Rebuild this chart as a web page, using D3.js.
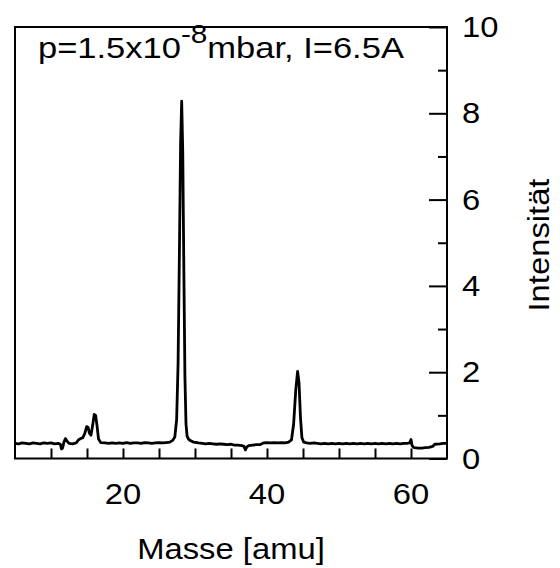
<!DOCTYPE html>
<html>
<head>
<meta charset="utf-8">
<script src="https://cdn.jsdelivr.net/npm/d3@7"></script>
<style>
  body { margin: 0; background: #fff; }
  text { font-family: "Liberation Sans", Arial, sans-serif; fill: #000; }
</style>
</head>
<body>
<svg id="chart"></svg>
<script>
'use strict';

let WIDTH = 560;
let HEIGHT = 568;
let FONT = 29;
let STRETCH = 1.13; // glyphs in the original are a bit wide

// mass spectrum
let mass = [
  5.0, 5.5, 6.0, 6.5, 7.0, 7.5, 8.0, 8.5, 9.0, 9.5, 10.0, 10.5, 11.0, 11.3, 11.45, 11.6, 11.8, 12.0, 12.2, 12.5,
  13.0, 13.5, 13.8, 14.1, 14.4, 14.7, 14.95, 15.15, 15.35, 15.55, 15.8, 16.0, 16.2, 16.4, 16.6, 16.9,
  17.5, 18.0, 18.5, 19.0, 19.5, 20.0, 20.5, 21.0, 21.5, 22.0, 22.5, 23.0, 23.5, 24.0, 24.5, 25.0, 25.5, 26.0, 26.5,
  26.9, 27.2, 27.45, 27.65, 27.85, 28.0, 28.15, 28.3, 28.45, 28.6, 28.75, 28.9, 29.1, 29.4, 29.8,
  30.5, 31.0, 31.5, 32.0, 32.5, 33.0, 33.5, 34.0, 34.5, 35.0, 35.5, 36.0, 36.5, 36.8, 37.0, 37.2, 37.5,
  38.0, 38.5, 39.0, 39.5, 40.0, 40.5, 41.0, 41.5, 42.0, 42.5, 43.0, 43.4, 43.7, 44.0, 44.25, 44.45, 44.65, 44.85,
  45.1, 45.5, 46.0, 46.5, 47.0, 47.5, 48.0, 48.5, 49.0, 49.5, 50.0, 50.5, 51.0, 51.5, 52.0, 52.5, 53.0, 53.5,
  54.0, 54.5, 55.0, 55.5, 56.0, 56.5, 57.0, 57.5, 58.0, 58.5, 59.0, 59.5, 59.8, 60.0, 60.15, 60.4,
  61.0, 61.5, 62.0, 62.5, 63.0, 63.3, 64.0, 64.5, 65.0
];
let intensity = [
  0.35, 0.34, 0.36, 0.35, 0.34, 0.36, 0.35, 0.34, 0.36, 0.35, 0.36, 0.34, 0.35, 0.33, 0.22, 0.24, 0.38, 0.46, 0.41, 0.35,
  0.34, 0.36, 0.43, 0.46, 0.48, 0.58, 0.74, 0.72, 0.58, 0.54, 0.78, 1.02, 1.00, 0.75, 0.45, 0.37,
  0.36, 0.35, 0.36, 0.35, 0.36, 0.35, 0.37, 0.35, 0.36, 0.36, 0.35, 0.37, 0.36, 0.35, 0.36, 0.37, 0.36, 0.37, 0.38,
  0.42, 0.50, 0.90, 2.20, 5.00, 7.30, 8.28, 7.10, 4.40, 1.90, 0.80, 0.52, 0.45, 0.41, 0.38,
  0.36, 0.35, 0.34, 0.35, 0.34, 0.33, 0.34, 0.33, 0.32, 0.33, 0.31, 0.31, 0.30, 0.28, 0.20, 0.27, 0.30,
  0.31, 0.32, 0.32, 0.36, 0.37, 0.36, 0.37, 0.36, 0.37, 0.36, 0.38, 0.43, 0.80, 1.60, 2.02, 1.75, 0.95, 0.48,
  0.38, 0.36, 0.35, 0.36, 0.35, 0.34, 0.35, 0.34, 0.35, 0.34, 0.35, 0.34, 0.35, 0.34, 0.35, 0.34, 0.35, 0.34,
  0.35, 0.34, 0.35, 0.34, 0.35, 0.34, 0.35, 0.34, 0.35, 0.34, 0.35, 0.35, 0.36, 0.44, 0.30, 0.25,
  0.24, 0.24, 0.25, 0.26, 0.28, 0.33, 0.34, 0.35, 0.35
];

let xTicks = [10, 15, 20, 25, 30, 35, 40, 45, 50, 55, 60];
let xLabels = [20, 40, 60];
let yMajor = [0, 2, 4, 6, 8, 10];
let yMinor = [1, 3, 5, 7, 9];

let plot = { left: 15, right: 447, top: 27, bottom: 458.5 };

let svg = d3.select('#chart').attr('width', WIDTH).attr('height', HEIGHT);

let x = d3.scaleLinear().domain([5, 65]).range([plot.left, plot.right]);
let y = d3.scaleLinear().domain([0, 10]).range([plot.bottom, plot.top]);

// spectrum
let points = mass.map(function(m, i) { return [m, intensity[i]]; });
svg.append('path')
  .datum(points)
  .attr('fill', 'none')
  .attr('stroke', '#000')
  .attr('stroke-width', 2.8)
  .attr('stroke-linejoin', 'round')
  .attr('d', d3.line().x(function(d) { return x(d[0]); }).y(function(d) { return y(d[1]); }));

// ticks pointing into the plot
let bottomAxis = svg.append('g')
  .attr('transform', 'translate(0,' + plot.bottom + ')')
  .call(d3.axisBottom(x).tickValues(xTicks).tickSizeInner(-10).tickSizeOuter(0).tickFormat(''));
let rightMajor = svg.append('g')
  .attr('transform', 'translate(' + plot.right + ',0)')
  .call(d3.axisRight(y).tickValues(yMajor).tickSizeInner(-18).tickSizeOuter(0).tickFormat(''));
let rightMinor = svg.append('g')
  .attr('transform', 'translate(' + plot.right + ',0)')
  .call(d3.axisRight(y).tickValues(yMinor).tickSizeInner(-9).tickSizeOuter(0).tickFormat(''));
[bottomAxis, rightMajor, rightMinor].forEach(function(g) {
  g.select('.domain').remove();
  g.selectAll('line').attr('stroke', '#000').attr('stroke-width', 2);
});

// frame
svg.append('rect')
  .attr('x', plot.left).attr('y', plot.top)
  .attr('width', plot.right - plot.left).attr('height', plot.bottom - plot.top)
  .attr('fill', 'none').attr('stroke', '#000').attr('stroke-width', 2);

function label(px, py, str, anchor, rot, sx) {
  let g = svg.append('g').attr('transform', 'translate(' + px + ',' + py + ')' + (rot ? ' rotate(' + rot + ')' : ''));
  return g.append('text')
    .attr('transform', 'scale(' + (sx || STRETCH) + ',1)')
    .attr('text-anchor', anchor)
    .attr('font-size', FONT)
    .text(str);
}

xLabels.forEach(function(v) { label(x(v), 504, v, 'middle'); });
yMajor.forEach(function(v) { label(462, y(v), v, 'start').attr('dy', '0.35em'); });

label((plot.left + plot.right) / 2, 559, 'Masse [amu]', 'middle');
label(549, 245, 'Intensität', 'middle', -90);

// title with superscript
let title = label(38, 58, 'p=1.5x10', 'start', 0, 1.19);
title.append('tspan').attr('font-size', 25).attr('dy', -15).text('-8');
title.append('tspan').attr('dy', 15).text('mbar, I=6.5A');
</script>
</body>
</html>
